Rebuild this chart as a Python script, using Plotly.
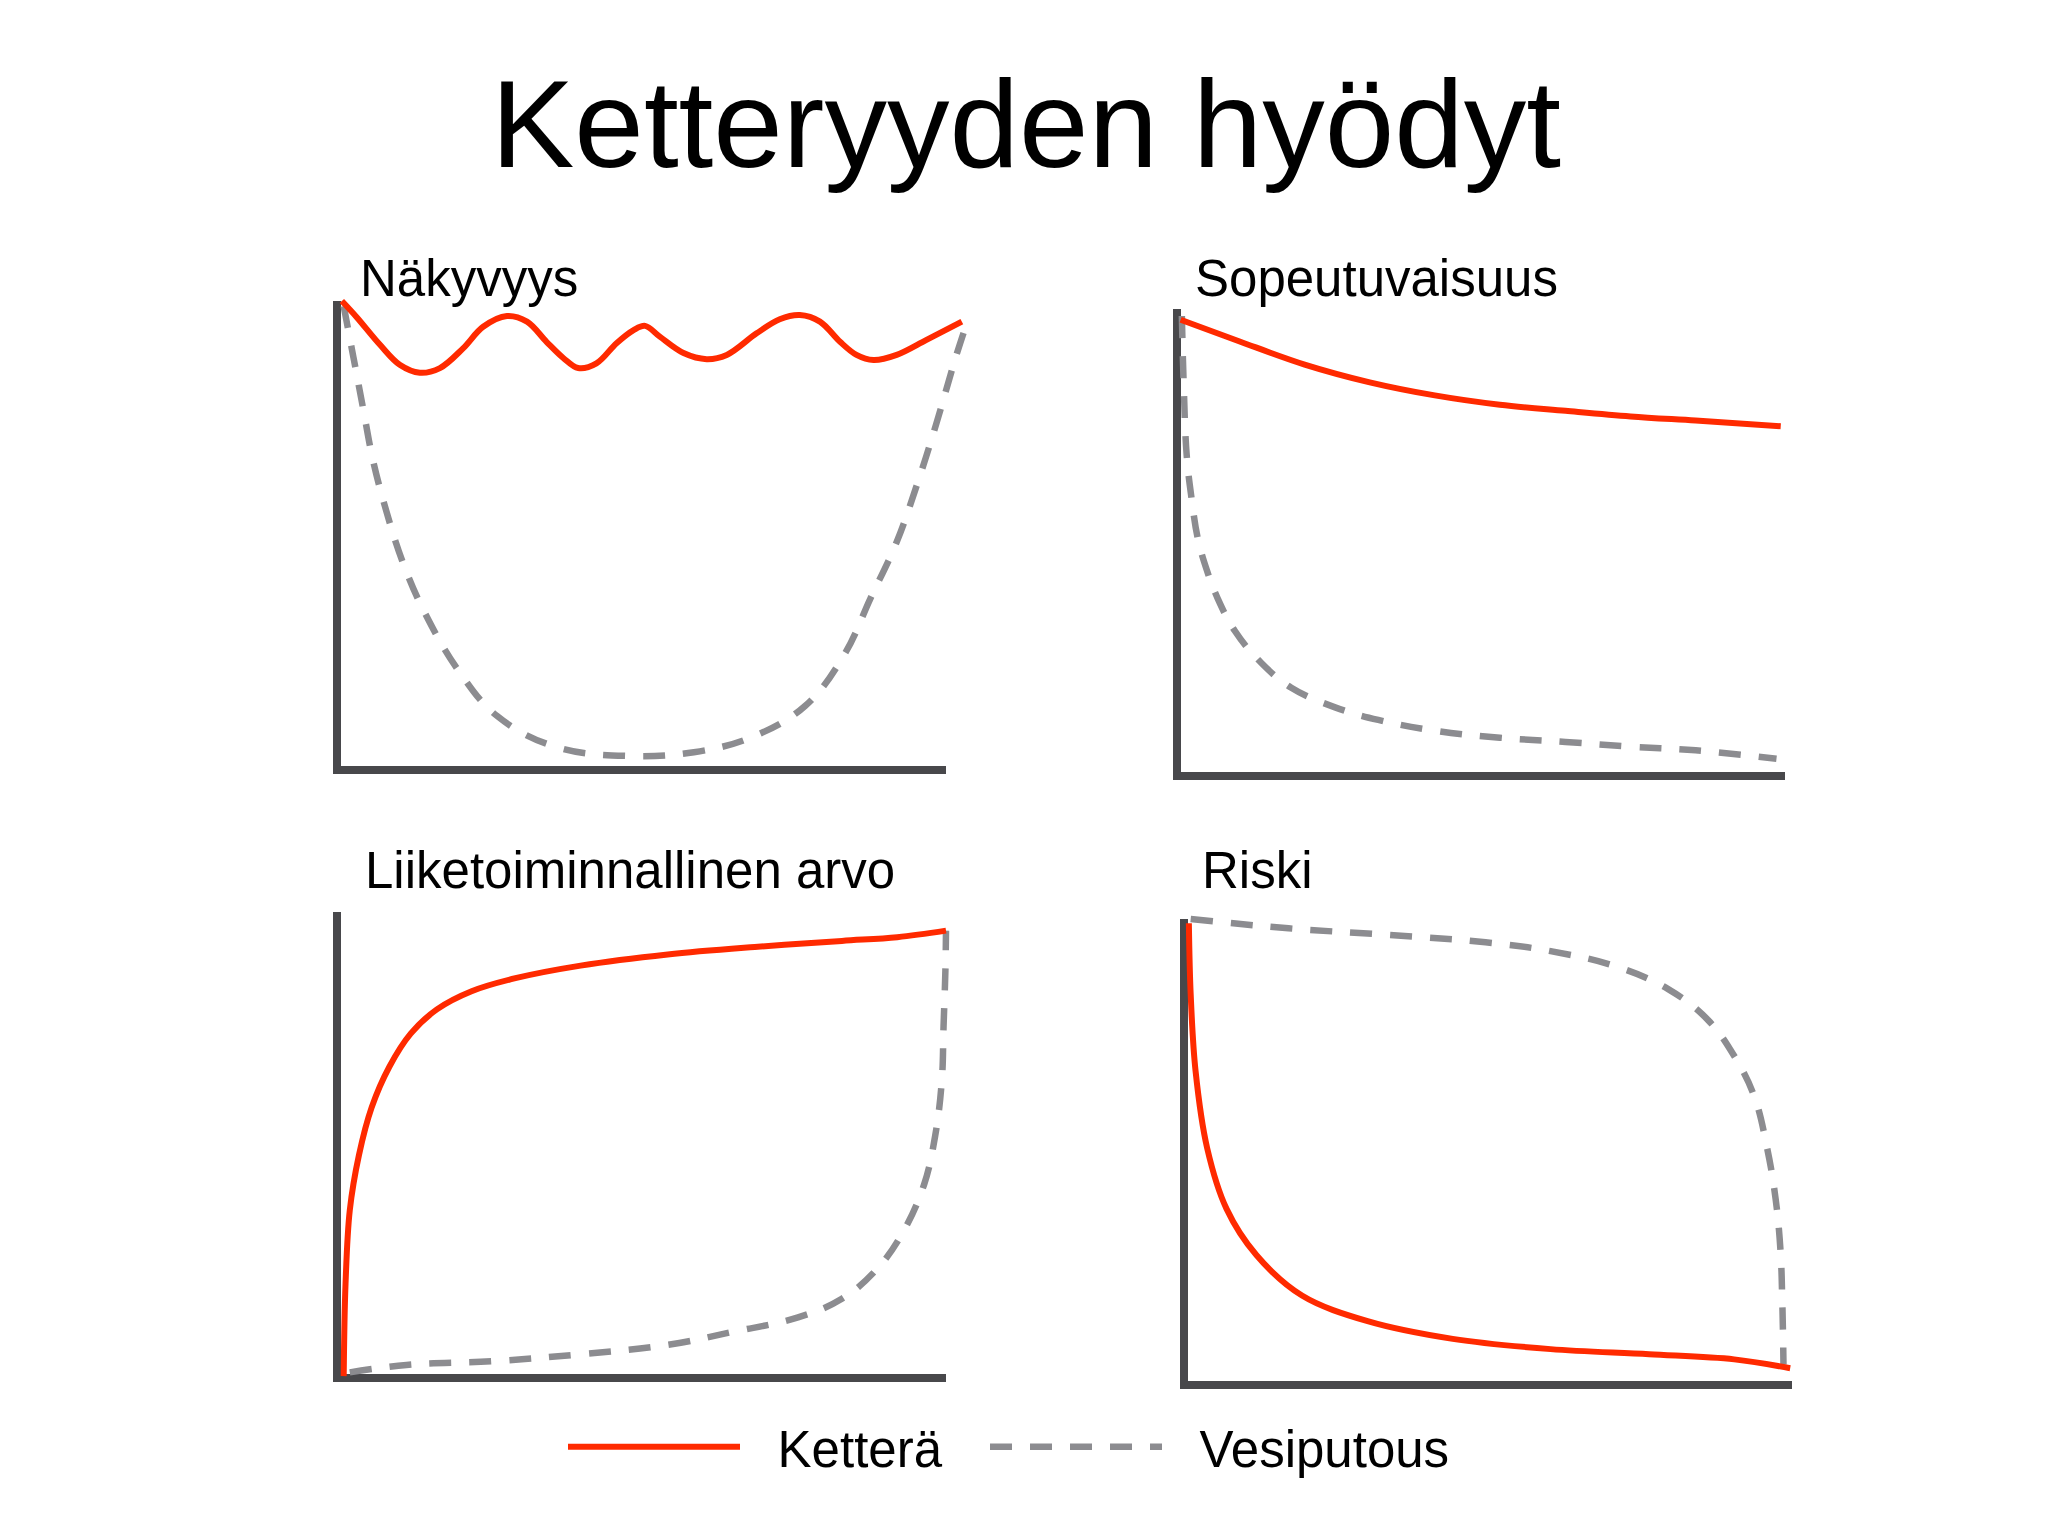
import plotly.graph_objects as go

# ---- data (panel units: 0 at the axis line, 100 at the end of the axis line) ----
main_title = "Ketteryyden hyödyt"
titles = ["Näkyvyys", "Sopeutuvaisuus", "Liiketoiminnallinen arvo", "Riski"]
legend_names = ["Ketterä", "Vesiputous"]

# Panel 1: Näkyvyys
p1_agile_x = [0.8, 3.2, 7.1, 10.3, 13.6, 16.9, 20.7, 24.0, 27.9, 31.2, 34.4, 37.2, 39.6, 42.6, 45.9, 48.7,
              50.6, 53.0, 56.9, 60.7, 64.0, 68.9, 72.7, 76.0, 79.3, 82.6, 85.3, 88.1, 91.9, 96.8, 102.6]
p1_agile_y = [100.0, 96.6, 90.6, 86.4, 84.7, 85.7, 89.9, 94.5, 96.8, 95.6, 91.3, 87.8, 85.7, 86.7, 91.0, 93.8,
              94.7, 92.4, 88.9, 87.6, 88.5, 93.1, 96.1, 97.0, 95.6, 91.3, 88.5, 87.4, 88.5, 91.7, 95.6]
p1_water_x = [1.1, 2.7, 4.3, 5.9, 8.1, 10.8, 14.5, 19.9, 26.3, 36.0, 47.8, 58.6, 68.3, 76.9, 83.3, 87.6, 91.9, 95.2, 98.4, 101.6, 103.5]
p1_water_y = [98.9, 88.0, 77.0, 66.1, 55.2, 44.3, 33.3, 21.3, 11.5, 4.9, 3.0, 3.8, 7.1, 13.7, 24.6, 36.6, 48.6, 60.7, 73.8, 88.0, 95.6]

# Panel 2: Sopeutuvaisuus
p2_agile_x = [0.6, 10.2, 21.0, 31.7, 42.4, 53.1, 63.9, 74.6, 85.3, 99.3]
p2_agile_y = [97.7, 93.1, 88.1, 84.3, 81.5, 79.5, 78.2, 77.0, 76.1, 74.9]
p2_water_x = [0.8, 1.1, 1.6, 2.4, 3.4, 4.9, 6.7, 9.5, 13.8, 18.8, 26.0, 33.1, 42.4, 53.1, 63.9, 74.6, 85.3, 98.6]
p2_water_y = [98.5, 83.9, 68.6, 59.4, 51.0, 44.1, 38.0, 31.1, 24.3, 18.9, 14.7, 12.0, 9.7, 8.2, 7.3, 6.3, 5.5, 3.7]

# Panel 3: Liiketoiminnallinen arvo
p3_agile_x = [1.1, 1.4, 2.1, 3.6, 5.7, 8.6, 12.1, 16.4, 22.1, 29.3, 40.0, 54.3, 68.6, 82.9, 92.0, 100.0]
p3_agile_y = [0.4, 20.2, 36.0, 47.8, 58.1, 66.8, 73.9, 79.1, 83.0, 85.8, 88.5, 90.9, 92.5, 93.8, 94.6, 96.0]
p3_water_x = [2.1, 11.4, 25.7, 40.0, 54.3, 65.0, 75.7, 82.9, 88.6, 92.9, 96.4, 98.2, 99.3, 99.6, 99.9, 100.0]
p3_water_y = [1.2, 2.8, 3.6, 5.1, 7.1, 9.9, 13.0, 17.0, 23.3, 31.2, 41.5, 51.8, 63.6, 75.5, 87.4, 96.0]

# Panel 4: Riski
p4_agile_x = [0.8, 1.1, 1.9, 3.8, 7.0, 11.9, 19.4, 30.2, 44.2, 60.3, 76.5, 90.5, 99.7]
p4_agile_y = [99.1, 83.8, 67.4, 50.9, 37.8, 27.9, 19.2, 13.7, 9.9, 7.7, 6.6, 5.5, 3.6]
p4_water_x = [1.1, 17.2, 33.4, 49.6, 60.3, 71.1, 79.7, 86.2, 90.5, 93.8, 95.9, 97.3, 98.1, 98.4, 98.6]
p4_water_y = [100.0, 98.0, 96.6, 95.0, 93.1, 89.8, 84.9, 78.3, 70.6, 61.9, 50.9, 40.0, 29.0, 18.1, 4.4]

series = [
    (p1_agile_x, p1_agile_y, p1_water_x, p1_water_y),
    (p2_agile_x, p2_agile_y, p2_water_x, p2_water_y),
    (p3_agile_x, p3_agile_y, p3_water_x, p3_water_y),
    (p4_agile_x, p4_agile_y, p4_water_x, p4_water_y),
]

# ---- layout geometry (screen pixels) ----
OFF = 8                      # default page body margin
FW, FH = 2040, 1528
LW = 8                       # axis line width
PAD = 40                     # extra room so curves may run past the axis ends
# axis-line centres: left x, right end x, top end y, bottom y
boxes = [(337, 946, 301, 770), (1177, 1785, 309, 776), (337, 946, 912, 1378), (1184, 1792, 919, 1385)]
title_pos = [(350, 271), (1185, 270), (355, 862), (1192, 862)]

RED = "#ff2a00"
GREY = "#8c8c90"
AXIS = "#48484b"
FONT = "Liberation Sans, Arial, Helvetica, sans-serif"
GAP = "\u00a0\u00a0\u200a"

def px(v):
    return (v - OFF) / FW

def py(v):
    return 1 - (v - OFF) / FH

fig = go.Figure()
layout = dict(
    width=FW, height=FH, margin=dict(l=0, r=0, t=0, b=0),
    paper_bgcolor="white", plot_bgcolor="rgba(0,0,0,0)",
    font=dict(family=FONT, color="black"),
    showlegend=True,
)
annotations = [dict(text=main_title, x=(1026 - OFF) / FW, y=py(115 + OFF), xref="paper", yref="paper",
                    xanchor="center", yanchor="middle", showarrow=False,
                    font=dict(size=125, family=FONT, color="black"))]

hidden = dict(showgrid=False, zeroline=False, showticklabels=False, ticks="", showline=False,
              fixedrange=True)
frame = dict(showgrid=False, zeroline=False, showticklabels=False, ticks="", range=[0, 1],
             showline=True, linecolor=AXIS, linewidth=LW, fixedrange=True)

# frame subplots first (ids 1..4) so the curves are painted over the axis lines
for i, (lx, rx, ty, by) in enumerate(boxes):
    f = "" if i == 0 else str(i + 1)
    layout["xaxis" + f] = dict(domain=[px(lx + LW / 2), px(rx)], anchor="y" + f, **frame)
    layout["yaxis" + f] = dict(domain=[py(by - LW / 2), py(ty)], anchor="x" + f, **frame)
    fig.add_trace(go.Scatter(x=[], y=[], xaxis="x" + f, yaxis="y" + f, mode="lines",
                             showlegend=False, hoverinfo="skip"))

for i, ((ax_, ay_, wx_, wy_), (lx, rx, ty, by)) in enumerate(zip(series, boxes)):
    d = str(i + 5)
    sx = (rx - lx) / 100.0
    sy = (by - ty) / 100.0
    layout["xaxis" + d] = dict(domain=[px(lx - PAD), px(rx + PAD)], anchor="y" + d,
                               range=[-PAD / sx, 100 + PAD / sx], **hidden)
    layout["yaxis" + d] = dict(domain=[py(by + PAD), py(ty - PAD)], anchor="x" + d,
                               range=[-PAD / sy, 100 + PAD / sy], **hidden)
    fig.add_trace(go.Scatter(x=wx_, y=wy_, xaxis="x" + d, yaxis="y" + d, mode="lines",
                             name=GAP + legend_names[1], legend="legend2", showlegend=(i == 0),
                             line=dict(color=GREY, width=6.5, dash="22px,18px", shape="spline", smoothing=1.1),
                             hoverinfo="skip"))
    fig.add_trace(go.Scatter(x=ax_, y=ay_, xaxis="x" + d, yaxis="y" + d, mode="lines",
                             name=GAP + legend_names[0], legend="legend", showlegend=(i == 0),
                             line=dict(color=RED, width=6, shape="spline", smoothing=1.0),
                             hoverinfo="skip"))
    tx, tyy = title_pos[i]
    annotations.append(dict(text=titles[i], x=px(tx + OFF), y=py(tyy + OFF), xref="paper", yref="paper",
                            xanchor="left", yanchor="middle", showarrow=False,
                            font=dict(size=51, family=FONT, color="black")))

layout["annotations"] = annotations
leg = dict(orientation="h", y=1 - 1439 / FH, xanchor="left", yanchor="middle",
           font=dict(size=51, family=FONT, color="black"), itemwidth=172,
           bgcolor="rgba(0,0,0,0)")
layout["legend"] = dict(x=555 / FW, **leg)
layout["legend2"] = dict(x=977 / FW, **leg)
fig.update_layout(**layout)
fig.write_html("out.html")
